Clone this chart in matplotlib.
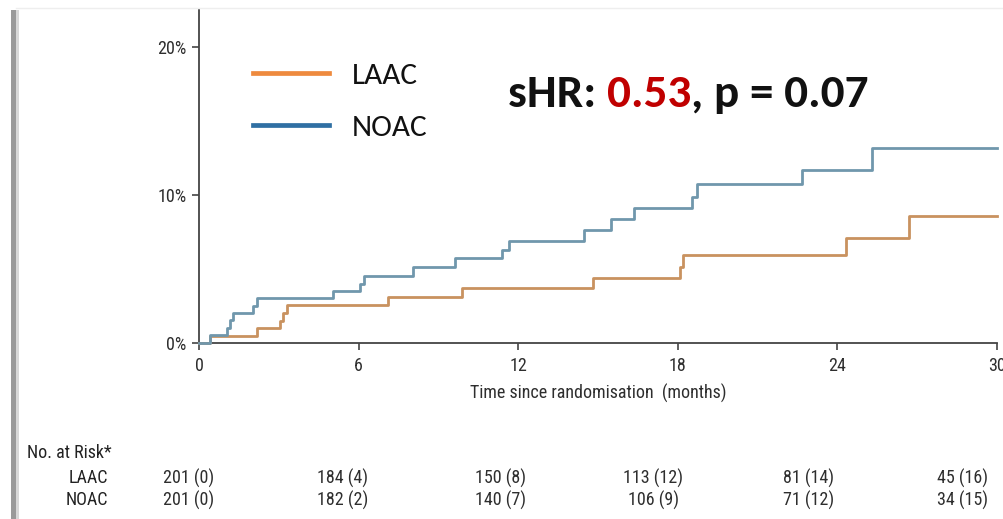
import matplotlib
matplotlib.use("Agg")
import matplotlib.pyplot as plt
from matplotlib.lines import Line2D
from matplotlib.patches import Rectangle
from matplotlib.transforms import blended_transform_factory

# ---------------- data ----------------
noac_t = [0, 0.41, 1.04, 1.17, 1.29, 2.04, 2.19, 5.05, 6.05, 6.20, 8.06, 9.62,
          11.38, 11.67, 14.46, 15.50, 16.37, 18.52, 18.71, 22.66, 25.29, 30]
noac_y = [0, 0.54, 0.99, 1.55, 2.05, 2.50, 3.06, 3.51, 3.99, 4.53, 5.11, 5.72,
          6.28, 6.89, 7.64, 8.36, 9.10, 9.84, 10.72, 11.69, 13.15, 13.15]
laac_t = [0, 0.41, 2.19, 3.05, 3.17, 3.30, 7.12, 9.90, 14.82, 18.08, 18.18,
          24.31, 26.70, 30]
laac_y = [0, 0.50, 1.04, 1.51, 2.05, 2.57, 3.13, 3.74, 4.39, 5.16, 5.95,
          7.07, 8.60, 8.60]

x_ticks = [0, 6, 12, 18, 24, 30]
y_ticks = [0, 10, 20]
y_tick_labels = ["0%", "10%", "20%"]
groups = ["LAAC", "NOAC"]
risk_laac = ["201 (0)", "184 (4)", "150 (8)", "113 (12)", "81 (14)", "45 (16)"]
risk_noac = ["201 (0)", "182 (2)", "140 (7)", "106 (9)", "71 (12)", "34 (15)"]
x_label = "Time since randomisation  (months)"
risk_title = "No. at Risk*"

# ---------------- style ----------------
W, H = 1004, 519
narrow = ["Roboto Condensed", "Liberation Sans", "DejaVu Sans"]
calibri = ["Carlito", "Lato", "DejaVu Sans"]
txt_col = "#2E2E2E"
c_laac_line = "#C9925F"
c_noac_line = "#7097AC"
c_laac_leg = "#EE8A3E"
c_noac_leg = "#2F6FA3"
fs = 13

fig = plt.figure(figsize=(W / 100, H / 100), dpi=100)
fig.patch.set_facecolor("white")

# slide frame shadow on the left
fig.patches.append(Rectangle((11 / W, 0), 5 / W, (H - 10) / H, transform=fig.transFigure,
                             facecolor="#9A9A9A", edgecolor="none", zorder=0))
fig.patches.append(Rectangle((16 / W, 0), 3 / W, (H - 10) / H, transform=fig.transFigure,
                             facecolor="#D8D8D8", edgecolor="none", zorder=0))
fig.add_artist(Line2D([16 / W, 1], [(H - 8) / H, (H - 8) / H], transform=fig.transFigure,
                      color="#EEEEEE", lw=1))

ax = fig.add_axes([199 / W, (H - 343) / H, 798 / W, 333 / H])
ax.set_xlim(0, 30)
ax.set_ylim(0, 22.5)

ax.step(laac_t, laac_y, where="post", color=c_laac_line, lw=2.0, clip_on=False, zorder=3)
ax.step(noac_t, noac_y, where="post", color=c_noac_line, lw=2.0, clip_on=False, zorder=4)

for s in ["top", "right"]:
    ax.spines[s].set_visible(False)
for s in ["left", "bottom"]:
    ax.spines[s].set_color("#444444")
    ax.spines[s].set_linewidth(1.3)

ax.set_xticks(x_ticks)
ax.set_xticklabels([str(v) for v in x_ticks])
ax.set_yticks(y_ticks)
ax.set_yticklabels(y_tick_labels)
ax.tick_params(axis="both", length=5, width=1.2, color="#444444", labelcolor=txt_col,
               labelsize=fs)
ax.tick_params(axis="x", pad=5)
ax.tick_params(axis="y", pad=4)
for lab in ax.get_xticklabels() + ax.get_yticklabels():
    lab.set_family(narrow)

fig.text(598 / W, (H - 393) / H, x_label, ha="center", va="center", fontsize=fs,
         color=txt_col, family=narrow)

# legend
handles = [Line2D([], [], color=c_laac_leg, lw=3.4), Line2D([], [], color=c_noac_leg, lw=3.4)]
leg = fig.legend(handles, groups, loc="upper left", bbox_to_anchor=(253 / W, (H - 62) / H),
                 frameon=False, handlelength=2.42, handletextpad=0.75,
                 labelspacing=0.8, borderpad=0, borderaxespad=0,
                 prop={"family": calibri, "size": 22.5})
for t in leg.get_texts():
    t.set_color("#111111")

# sHR annotation
yb = (H - 107) / H
fsb = 34
t1 = fig.text(508 / W, yb, "sHR: ", fontsize=fsb, fontweight="bold",
              family=calibri, color="#111111", ha="left", va="baseline")
fig.canvas.draw()
r = fig.canvas.get_renderer()
bb = t1.get_window_extent(r)
t2 = fig.text(bb.x1 / W, yb, "0.53", fontsize=fsb, fontweight="bold",
              family=calibri, color="#C00000", ha="left", va="baseline")
bb2 = t2.get_window_extent(r)
fig.text(bb2.x1 / W, yb, ", p = 0.07", fontsize=fsb, fontweight="bold",
         family=calibri, color="#111111", ha="left", va="baseline")

# risk table
risk_cols_x = [-0.41, 5.41, 11.35, 17.07, 22.9, 28.72]
tr = blended_transform_factory(ax.transData, fig.transFigure)
fig.text(27 / W, (H - 453) / H, risk_title, ha="left", va="center", fontsize=fs,
         color="#222222", family=narrow)
row_y = [478, 500]
for g, vals, yy in zip(groups, [risk_laac, risk_noac], row_y):
    fig.text(108 / W, (H - yy) / H, g, ha="right", va="center", fontsize=fs,
             color="#222222", family=narrow)
    for xv, v in zip(risk_cols_x, vals):
        ax.text(xv, (H - yy) / H, v, transform=tr, ha="center", va="center",
                fontsize=fs, color=txt_col, family=narrow, clip_on=False)

fig.savefig("out.png", dpi=100, facecolor="white")
